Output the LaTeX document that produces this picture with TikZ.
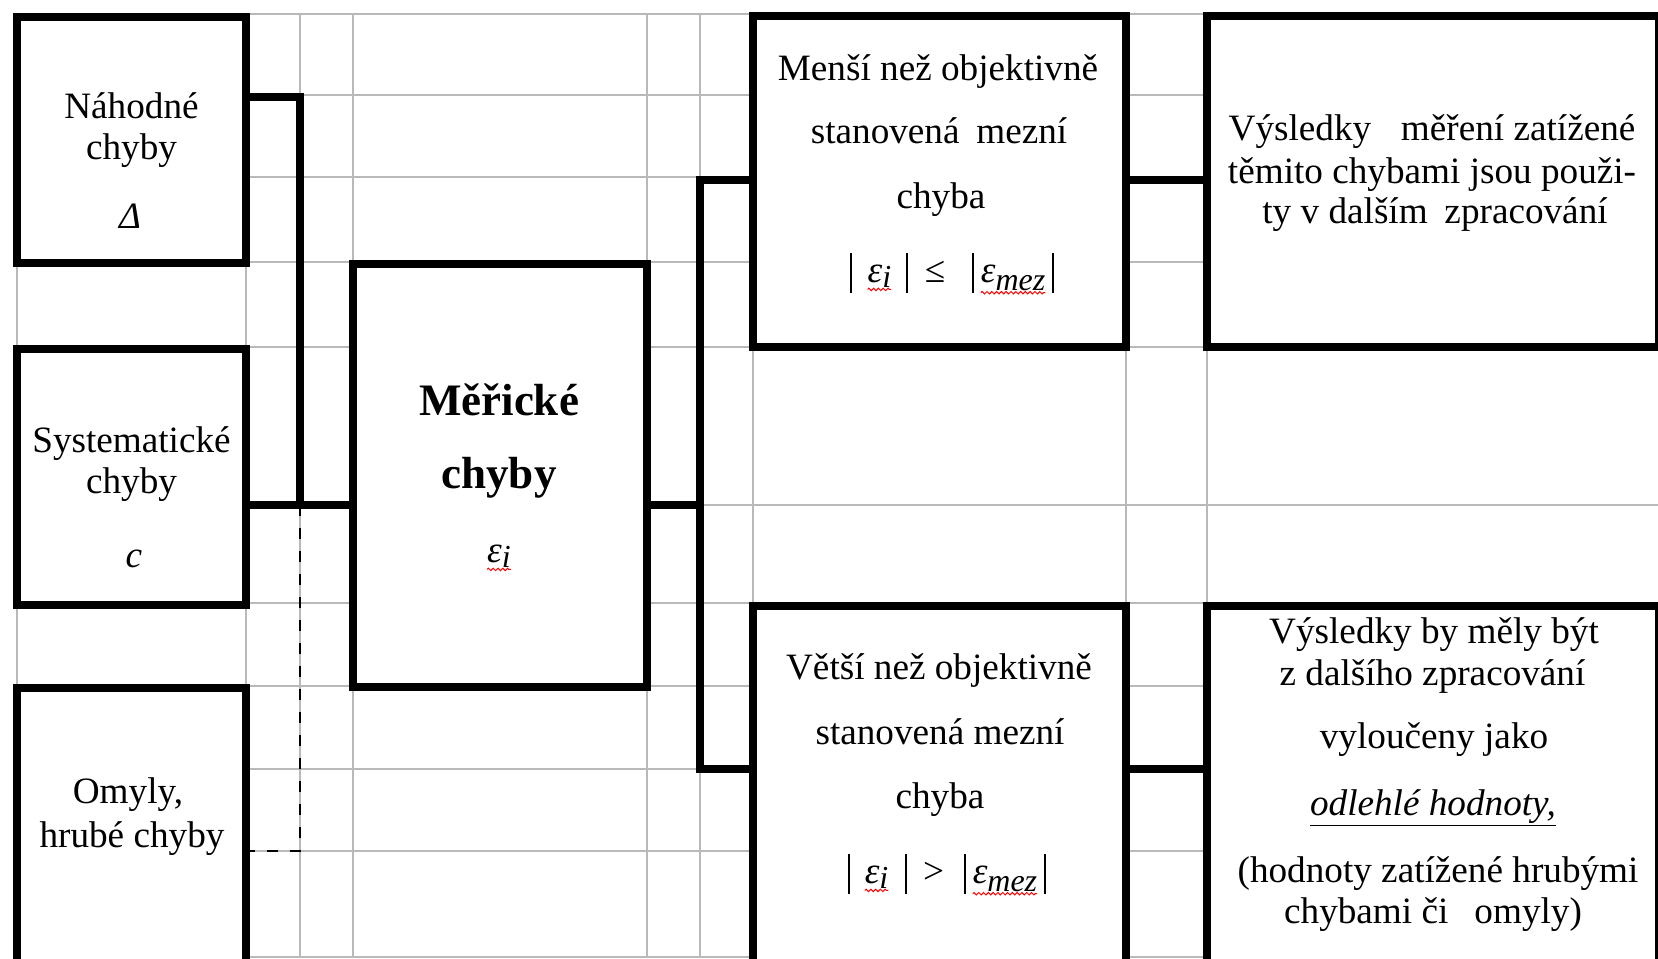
\documentclass[tikz,border=0pt]{standalone}
\usepackage{fontspec}
\setmainfont{Liberation Serif}
\usetikzlibrary{decorations.pathmorphing}

% red wavy underline (spell-checker mark) under a piece of text
\newcommand\sqg[1]{\tikz[baseline=(sq.base)]{\node[inner sep=0pt,outer sep=0pt,anchor=base] (sq) {#1};\draw[red,line width=0.5pt,decorate,decoration={zigzag,segment length=2.4pt,amplitude=0.6pt}] ([yshift=-1.2pt]sq.south west) -- ([yshift=-1.2pt]sq.south east);}}
\newcommand\ei{{\itshape ε\raisebox{-2.5pt}{\fontsize{16}{16}\selectfont i}}}
\newcommand\emez{{\itshape ε\raisebox{-4pt}{\fontsize{16}{16}\selectfont mez}}}
% absolute-value bar
\newcommand\vb{\rule[-5.5pt]{1.1pt}{20pt}}

\tikzset{
  grid line/.style={draw=gray!55, line width=0.75pt},
  box/.style={draw=black, line width=3.75pt, fill=white, inner sep=0pt, outer sep=0pt, shape=rectangle},
  txt/.style={inner sep=0pt, outer sep=0pt, anchor=base, font=\fontsize{18.6}{20}\selectfont},
  big/.style={txt, font=\fontsize{22.5}{24}\selectfont\bfseries},
  link/.style={line width=3.75pt, line join=miter},
  guide/.style={line width=1pt, dash pattern=on 5.5pt off 6pt}
}

\begin{document}
\begin{tikzpicture}[x=0.5pt, y=-0.5pt]
\useasboundingbox (0,0) rectangle (1658,958);
\clip (0,0) rectangle (1658,958);

% table grid
\foreach \y in {14,95,177,262,347,505,603,686,769,851,957}
  \draw[grid line] (17,\y) -- (1658,\y);
\foreach \x in {17,246,300,353,647,700,753,1126,1207}
  \draw[grid line] (\x,14) -- (\x,957);

% boxes
\node[box, minimum width=114.5pt, minimum height=123pt] (n1) at (131.5,140) {};
\node[box, minimum width=114.5pt, minimum height=128pt] (n2) at (131.5,477) {};
\node[box, minimum width=114.5pt, minimum height=156pt] (n3) at (131.5,844) {};
\node[box, minimum width=147pt, minimum height=211.5pt] (m) at (500,475.5) {};
\node[box, minimum width=186.5pt, minimum height=165.5pt] (a) at (939.5,181.5) {};
\node[box, minimum width=226pt, minimum height=165.5pt] (r1) at (1433,181.5) {};
\node[box, minimum width=186.5pt, minimum height=197pt] (b) at (939.5,803) {};
\node[box, minimum width=226pt, minimum height=197pt] (r2) at (1433,803) {};

% junction points
\coordinate (jT) at (300,97);
\coordinate (jM) at (300,505);
\coordinate (jD) at (300,851);
\coordinate (kM) at (700,505);
\coordinate (kT) at (700,180);
\coordinate (kB) at (700,769);

% connectors
\draw[link] (n1.east |- jT) -- (jT) -- (jM);
\draw[link] (n2.east |- jM) -- (m.west |- jM);
\draw[guide] (jM) -- (jD) -- (n3.east |- jD);
\draw[link] (m.east |- kM) -- (kM);
\draw[link] (a.west |- kT) -- (kT) -- (kB) -- (b.west |- kB);
\draw[link] (a.east |- kT) -- (r1.west |- kT);
\draw[link] (b.east |- kB) -- (r2.west |- kB);

% Náhodné chyby
\node[txt] (n1a) at (131.5,118) {Náhodné};
\node[txt] (n1b) at (131.5,159) {chyby};
\node[txt] (n1c) at (130,228) {\itshape Δ};

% Systematické chyby
\node[txt] (n2a) at (131.5,452) {Systematické};
\node[txt] (n2b) at (131.5,493) {chyby};
\node[txt] (n2c) at (134,567) {\itshape c};

% Omyly
\node[txt] (n3a) at (128,803) {Omyly,};
\node[txt] (n3b) at (132,847) {hrubé chyby};

% Měřické chyby
\node[big] (ma) at (499,415) {Měřické};
\node[big] (mb) at (499,488) {chyby};
\node[txt] (mc) at (499,562) {\sqg{\ei}};

% Menší než mezní chyba
\node[txt] (aa) at (938,80) {Menší než objektivně};
\node[txt] (ab) at (939,143) {stanovená\hspace{0.45em}mezní};
\node[txt] (ac) at (941,208) {chyba};
\node[txt] (ad) at (952,282) {\vb\hspace{7.5pt}\sqg{\ei}\hspace{7pt}\vb\hspace{8.5pt}≤\hspace{13.5pt}\vb\hspace{3pt}\sqg{\emez}\hspace{3pt}\vb};

% výsledky použité dále
\node[txt] (r1a) at (1432,140) {Výsledky\hspace{0.8em}měření zatížené};
\node[txt] (r1b) at (1432,183) {těmito chybami jsou použi-};
\node[txt] (r1c) at (1435,223) {ty v dalším\hspace{0.45em}zpracování};

% Větší než mezní chyba
\node[txt] (ba) at (939,679) {Větší než objektivně};
\node[txt] (bb) at (940,744) {stanovená mezní};
\node[txt] (bc) at (940,808) {chyba};
\node[txt] (bd) at (947,883) {\vb\hspace{7pt}\sqg{\ei}\hspace{8pt}\vb\hspace{8pt}>\hspace{10pt}\vb\hspace{3pt}\sqg{\emez}\hspace{3pt}\vb};

% vyloučené výsledky
\node[txt] (r2a) at (1434,643) {Výsledky by měly být};
\node[txt] (r2b) at (1432.5,685) {z dalšího zpracování};
\node[txt] (r2c) at (1434,748) {vyloučeny jako};
\node[txt] (r2d) at (1433,815) {\underline{\itshape odlehlé hodnoty,}};
\node[txt] (r2e) at (1438,882) {(hodnoty zatížené hrubými};
\node[txt] (r2f) at (1433,923) {chybami či\hspace{0.7em}omyly)};
\end{tikzpicture}
\end{document}
